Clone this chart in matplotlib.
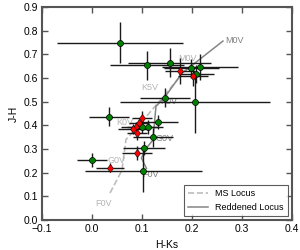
import matplotlib
matplotlib.use("Agg")
import matplotlib.pyplot as plt

plt.rcParams['font.family'] = ['Liberation Sans', 'DejaVu Sans']

# Green sources
g_x = [0.056, 0.111, 0.156, 0.199, 0.216, 0.209, 0.146, 0.206, 0.034, 0.101, 0.112, 0.133, 0.123, 0.104, 0.001, 0.103]
g_y = [0.749, 0.653, 0.665, 0.641, 0.648, 0.617, 0.517, 0.497, 0.436, 0.392, 0.394, 0.413, 0.349, 0.303, 0.253, 0.207]
g_xerr = [0.126, 0.074, 0.083, 0.055, 0.076, 0.035, 0.05, 0.15, 0.04, 0.03, 0.03, 0.04, 0.04, 0.042, 0.03, 0.117]
g_yerr = [0.087, 0.063, 0.06, 0.04, 0.055, 0.04, 0.04, 0.13, 0.04, 0.025, 0.03, 0.03, 0.04, 0.03, 0.03, 0.09]

# Red sources
r_x = [0.177, 0.203, 0.101, 0.095, 0.089, 0.083, 0.091, 0.091, 0.036]
r_y = [0.631, 0.608, 0.430, 0.408, 0.394, 0.384, 0.366, 0.282, 0.221]
r_xerr = [0.03, 0.03, 0.02, 0.02, 0.03, 0.03, 0.02, 0.03, 0.028]
r_yerr = [0.055, 0.04, 0.03, 0.02, 0.02, 0.02, 0.03, 0.03, 0.02]

# Main-sequence locus
ms_x = [0.036, 0.060, 0.068, 0.090, 0.176]
ms_y = [0.114, 0.210, 0.340, 0.390, 0.605]
ms_labels = ['F0V', 'G0V', 'K0V', 'K5V', 'M0V']
ms_label_x = [0.024, 0.050, 0.065, 0.116, 0.192]
ms_label_y = [0.068, 0.253, 0.410, 0.560, 0.684]

# Reddened locus
rd_x = [0.109, 0.099, 0.109, 0.122, 0.125, 0.128, 0.146, 0.180, 0.262]
rd_y = [0.218, 0.262, 0.304, 0.338, 0.410, 0.480, 0.520, 0.620, 0.756]
rd_labels = ['F0V', 'G0V', 'K0V', 'M0V']
rd_label_x = [0.118, 0.146, 0.154, 0.286]
rd_label_y = [0.194, 0.346, 0.500, 0.760]

fig = plt.figure(figsize=(3.0, 2.5), dpi=100)
ax = fig.add_axes([0.14, 0.12, 0.833, 0.852])

ax.plot(ms_x, ms_y, ls='--', color='#bdbdbd', lw=1.2, label='MS Locus', zorder=1)
ax.plot(rd_x, rd_y, ls='-', color='#858585', lw=1.1, label='Reddened Locus', zorder=1)

for t, lx, ly in zip(ms_labels, ms_label_x, ms_label_y):
    ax.text(lx, ly, t, color='#b5b5b5', fontsize=6.5, ha='center', va='center', zorder=1)
for t, lx, ly in zip(rd_labels, rd_label_x, rd_label_y):
    ax.text(lx, ly, t, color='#808080', fontsize=6.5, ha='center', va='center', zorder=1)

ax.errorbar(g_x, g_y, xerr=g_xerr, yerr=g_yerr, fmt='o', color='#1a1a1a', ecolor='#1a1a1a',
            elinewidth=1.0, capsize=0, mfc='green', mec='black', mew=0.5, ms=4.3, zorder=3)
ax.errorbar(r_x, r_y, xerr=r_xerr, yerr=r_yerr, fmt='d', color='#1a1a1a', ecolor='#1a1a1a',
            elinewidth=1.0, capsize=0, mfc='red', mec='black', mew=0.4, ms=4.3, zorder=3)

ax.set_xlim(-0.1, 0.4)
ax.set_ylim(0.0, 0.9)
ax.set_xticks([-0.1, 0.0, 0.1, 0.2, 0.3, 0.4])
ax.set_yticks([0.0, 0.1, 0.2, 0.3, 0.4, 0.5, 0.6, 0.7, 0.8, 0.9])
ax.tick_params(direction='in', top=True, right=True, length=4, width=1, color='#555555', labelsize=7.5, pad=3)
for s in ax.spines.values():
    s.set_color('#555555')
    s.set_linewidth(1.5)

ax.set_xlabel('H-Ks', fontsize=7.5, labelpad=4)
ax.set_ylabel('J-H', fontsize=7.5, labelpad=3)

leg = ax.legend(loc='lower right', fontsize=6.5, frameon=True, fancybox=False, handlelength=2.2,
                borderpad=0.5, labelspacing=0.5, borderaxespad=0.4)
leg.get_frame().set_edgecolor('#333333')
leg.get_frame().set_linewidth(0.8)

fig.savefig('out.png', dpi=100)
